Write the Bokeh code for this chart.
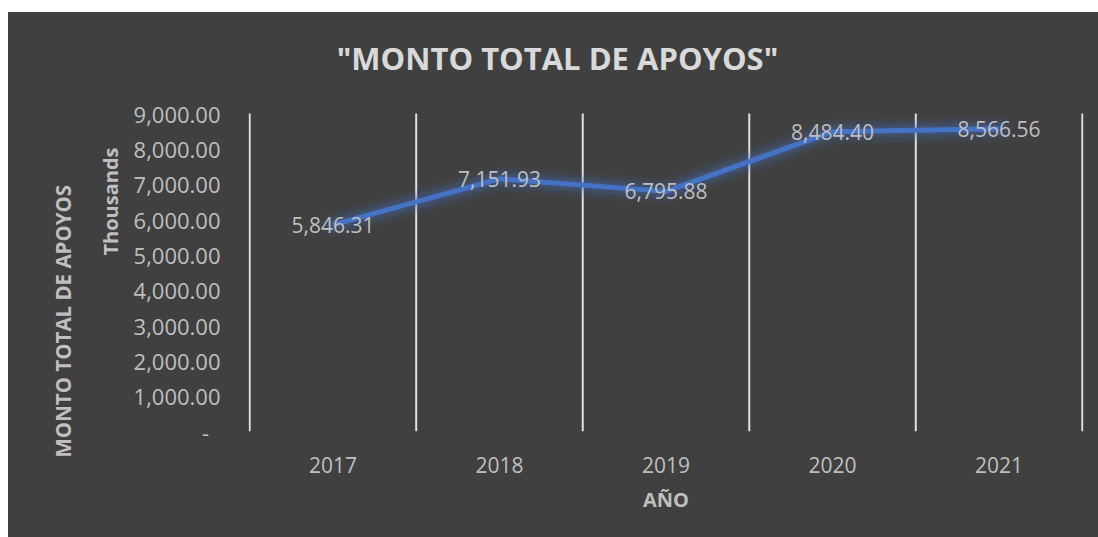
import math
from bokeh.plotting import figure
from bokeh.models import (Range1d, FixedTicker, NumeralTickFormatter, Label,
                          Title, ColumnDataSource, Spacer)
from bokeh.layouts import column, row
from bokeh.core.properties import value
from bokeh.embed import file_html
from bokeh.resources import INLINE

years = [2017, 2018, 2019, 2020, 2021]
montos = [5846.31, 7151.93, 6795.88, 8484.40, 8566.56]
y_ticks = [0, 1000, 2000, 3000, 4000, 5000, 6000, 7000, 8000, 9000]
title_text = '"MONTO TOTAL DE APOYOS"'
y_title = "MONTO TOTAL DE APOYOS"
units_title = "Thousands"
x_title = "AÑO"

BG = "#404040"
TXT = "#BFBFBF"
LINE = "#4472C4"
FONT = "Open Sans"
W, H = 1090, 525
EPS = 0.007          # tiny x padding so the edge separators are fully visible
FRAME_TOP = 8        # frame starts near the top so the title can live inside it
AXIS_TOP = 101       # pixel row (from figure top) of the top tick
AXIS_BOTTOM = 419    # pixel row of the zero line
y_top = y_ticks[-1] * (AXIS_BOTTOM - FRAME_TOP) / (AXIS_BOTTOM - AXIS_TOP)

p = figure(width=W, height=H, output_backend="svg", toolbar_location=None,
           x_range=Range1d(years[0] - 0.5 - EPS, years[-1] + 0.5 + EPS),
           y_range=Range1d(y_ticks[0], y_top),
           min_border_left=240, min_border_right=15,
           min_border_top=FRAME_TOP, min_border_bottom=H - AXIS_BOTTOM)
p.background_fill_color = BG
p.border_fill_color = BG
p.outline_line_color = None
p.styles = {"background-color": BG}

# axes
p.xaxis.ticker = FixedTicker(ticks=years)
p.xaxis.major_label_overrides = {y: str(y) for y in years}
p.yaxis.ticker = FixedTicker(ticks=y_ticks)
p.yaxis.formatter = NumeralTickFormatter(format="0,0.00")
p.yaxis.major_label_overrides = {0: "-\u00a0\u00a0"}
for ax in (p.xaxis, p.yaxis):
    ax.axis_line_color = None
    ax.major_tick_line_color = None
    ax.minor_tick_line_color = None
    ax.major_label_text_font = FONT
    ax.major_label_text_color = TXT
p.yaxis.major_label_text_font_size = "22px"
p.xaxis.major_label_text_font_size = "21px"
p.yaxis.major_label_standoff = 22
p.xaxis.major_label_standoff = 19
p.xaxis.axis_label = x_title
p.xaxis.axis_label_text_font = FONT
p.xaxis.axis_label_text_font_size = "20px"
p.xaxis.axis_label_text_font_style = "bold"
p.xaxis.axis_label_text_color = TXT
p.xaxis.axis_label_standoff = 10

# vertical axis titles (left side, stacked outward from the axis)
p.add_layout(Title(text=units_title, align="left", offset=176, standoff=14,
                   text_font=FONT, text_font_size="20px",
                   text_font_style="bold", text_color=TXT), "left")
p.add_layout(Title(text=y_title, align="left", offset=-26, standoff=22,
                   text_font=FONT, text_font_size="20.5px",
                   text_font_style="bold", text_color=TXT), "left")

# grids: category separators from the zero line up to the top tick
p.ygrid.grid_line_color = None
p.xgrid.grid_line_color = None
bounds = [y - 0.5 for y in years] + [years[-1] + 0.5]
p.segment(x0=bounds, x1=bounds, y0=[y_ticks[0]] * len(bounds),
          y1=[y_ticks[-1]] * len(bounds), line_color="#E0E0E0", line_width=2)

src = ColumnDataSource(dict(x=years, y=montos,
                            lbl=[f"{v:,.2f}" for v in montos]))

# glow
for w, a in [(26, 0.06), (20, 0.08), (15, 0.11), (10, 0.16)]:
    p.line("x", "y", source=src, line_color=LINE, line_width=w, line_alpha=a,
           line_join="round", line_cap="round")
p.line("x", "y", source=src, line_color=LINE, line_width=5, line_join="round")

p.text("x", "y", text="lbl", source=src, text_font=value(FONT),
       text_font_size="21px", text_color=TXT, text_align="center",
       text_baseline="middle")

# chart title (screen units are measured from the frame's lower-left corner)
p.add_layout(Label(x=309, y=374, x_units="screen", y_units="screen",
                   text=title_text, text_align="center", text_baseline="middle",
                   text_font=FONT, text_font_size="31px",
                   text_font_style="bold", text_color="#D9D9D9"))

layout = column(Spacer(height=12, width=W + 8),
                row(Spacer(width=8, height=H), p))
open("out.html", "w").write(file_html(layout, INLINE))
